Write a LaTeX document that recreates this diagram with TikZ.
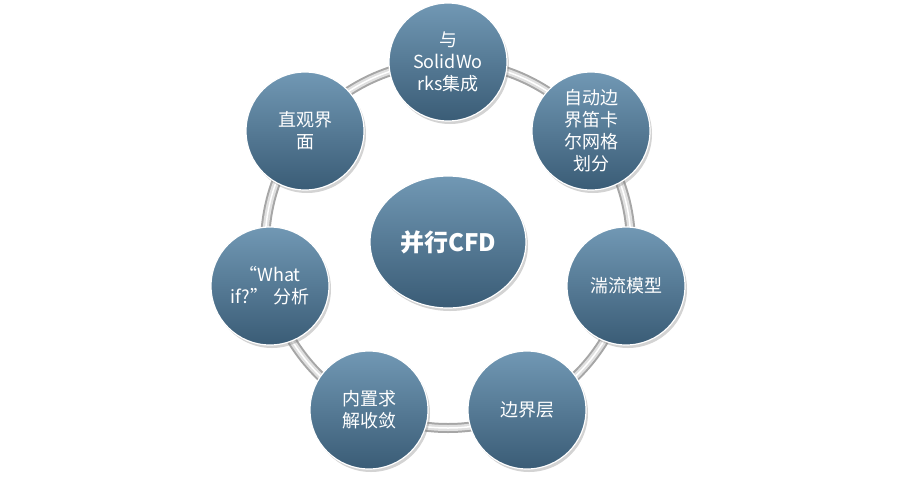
\documentclass[tikz,border=0pt]{standalone}
\usepackage{fontspec}
\setmainfont{Noto Sans CJK SC}
\usetikzlibrary{shadows,shapes.geometric}
\definecolor{ctop}{HTML}{7198B4}
\definecolor{cbot}{HTML}{3A5C76}
\tikzset{
  bub/.style={circle,minimum size=118pt,inner sep=0pt,top color=ctop,bottom color=cbot,
    draw=white,line width=1.2pt,text=white,font=\fontsize{18pt}{22pt}\selectfont,align=center,
    drop shadow={shadow xshift=2pt,shadow yshift=-3pt,opacity=0.35}},
  mid/.style={ellipse,minimum width=156pt,minimum height=132pt,inner sep=0pt,top color=ctop,bottom color=cbot,
    draw=white,line width=1.2pt,text=white,font=\fontsize{24pt}{28pt}\selectfont\bfseries,
    drop shadow={shadow xshift=2pt,shadow yshift=-3pt,opacity=0.35}}
}
\begin{document}
\begin{tikzpicture}[x=1pt,y=-1pt]
\useasboundingbox (0,0) rectangle (900,480);
\coordinate (c) at (448,245);
\draw[line width=10pt,color=black!35] (c) circle (183);
\draw[line width=6pt,color=black!12] (c) circle (183);
\draw[line width=1.5pt,color=white] (c) circle (183);
\node[mid] (m) at (448,242) {并行CFD};
\node[bub] (a) at (448,62) {与\\SolidWo\\rks集成};
\node[bub] (b) at (591,131) {自动边\\界笛卡\\尔网格\\划分};
\node[bub] (d) at (626,286) {湍流模型};
\node[bub] (e) at (527,410) {边界层};
\node[bub] (f) at (369,410) {内置求\\解收敛};
\node[bub] (g) at (270,286) {“What\\if?” 分析};
\node[bub] (h) at (305,131) {直观界\\面};
\end{tikzpicture}
\end{document}
